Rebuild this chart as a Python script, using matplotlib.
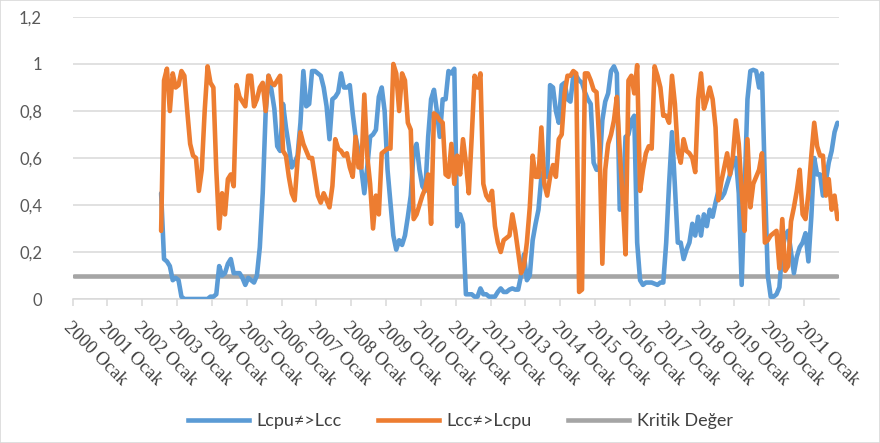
import matplotlib
matplotlib.use("Agg")
import matplotlib.pyplot as plt
from matplotlib.lines import Line2D
from matplotlib.patches import Rectangle
import numpy as np

# ---------------- data ----------------
year_labels = [f"{y} Ocak" for y in range(2000, 2022)]
n_months = 264          # 2000 Ocak .. 2021 Aralık (category axis)
start_month = 30        # first observation: 2002 Temmuz

lcpu_lcc = [
    0.45, 0.17, 0.16, 0.14, 0.08, 0.09, 0.08, 0.01, 0.00, 0.00,   # 30-39
    0.00, 0.00, 0.00, 0.00, 0.00, 0.00, 0.00, 0.01, 0.01, 0.02,   # 40-49
    0.14, 0.10, 0.11, 0.15, 0.17, 0.11, 0.11, 0.11, 0.09, 0.06,   # 50-59
    0.09, 0.08, 0.07, 0.10, 0.22, 0.45, 0.79, 0.95, 0.89, 0.81,   # 60-69
    0.65, 0.63, 0.83, 0.73, 0.65, 0.56, 0.58, 0.61, 0.75, 0.97,   # 70-79
    0.82, 0.83, 0.97, 0.97, 0.96, 0.95, 0.90, 0.82, 0.68, 0.85,   # 80-89
    0.86, 0.88, 0.96, 0.90, 0.90, 0.91, 0.79, 0.69, 0.63, 0.55,   # 90-99
    0.45, 0.56, 0.69, 0.70, 0.72, 0.86, 0.90, 0.80, 0.55, 0.41,   # 100-109
    0.27, 0.21, 0.25, 0.23, 0.27, 0.35, 0.44, 0.63, 0.66, 0.55,   # 110-119
    0.48, 0.46, 0.69, 0.85, 0.89, 0.80, 0.69, 0.85, 0.85, 0.97,   # 120-129
    0.96, 0.98, 0.31, 0.36, 0.32, 0.02, 0.02, 0.02, 0.01, 0.01,   # 130-139
    0.045, 0.02, 0.02, 0.01, 0.01, 0.01, 0.03, 0.045, 0.03, 0.03, # 140-149
    0.04, 0.045, 0.04, 0.04, 0.10, 0.19, 0.08, 0.10, 0.25, 0.32,  # 150-159
    0.38, 0.52, 0.55, 0.52, 0.91, 0.90, 0.80, 0.75, 0.91, 0.92,   # 160-169
    0.85, 0.84, 0.95, 0.95, 0.93, 0.92, 0.88, 0.85, 0.83, 0.58,   # 170-179
    0.55, 0.55, 0.76, 0.84, 0.875, 0.97, 0.99, 0.96, 0.38, 0.40,  # 180-189
    0.69, 0.70, 0.76, 0.78, 0.24, 0.08, 0.06, 0.07, 0.07, 0.07,   # 190-199
    0.065, 0.06, 0.07, 0.07, 0.24, 0.49, 0.71, 0.48, 0.24, 0.24,  # 200-209
    0.17, 0.21, 0.24, 0.32, 0.27, 0.35, 0.27, 0.36, 0.31, 0.38,   # 210-219
    0.35, 0.41, 0.46, 0.43, 0.45, 0.49, 0.53, 0.58, 0.60, 0.45,   # 220-229
    0.06, 0.45, 0.85, 0.97, 0.975, 0.97, 0.90, 0.96, 0.50, 0.10,  # 230-239
    0.01, 0.01, 0.02, 0.05, 0.21, 0.27, 0.29, 0.20, 0.11, 0.18,   # 240-249
    0.22, 0.24, 0.28, 0.16, 0.35, 0.60, 0.53, 0.53, 0.44, 0.50,   # 250-259
    0.58, 0.63, 0.71, 0.75,                                       # 260-263
]

lcc_lcpu = [
    0.29, 0.93, 0.98, 0.80, 0.96, 0.90, 0.91, 0.97, 0.95, 0.80,   # 30-39
    0.66, 0.61, 0.60, 0.46, 0.55, 0.80, 0.99, 0.92, 0.90, 0.55,   # 40-49
    0.30, 0.45, 0.36, 0.51, 0.53, 0.48, 0.91, 0.86, 0.84, 0.82,   # 50-59
    0.95, 0.95, 0.82, 0.85, 0.90, 0.92, 0.80, 0.95, 0.92, 0.91,   # 60-69
    0.93, 0.95, 0.63, 0.61, 0.52, 0.45, 0.42, 0.59, 0.71, 0.66,   # 70-79
    0.63, 0.60, 0.60, 0.52, 0.44, 0.41, 0.45, 0.42, 0.39, 0.48,   # 80-89
    0.68, 0.64, 0.63, 0.61, 0.62, 0.56, 0.52, 0.69, 0.56, 0.56,   # 90-99
    0.87, 0.61, 0.49, 0.30, 0.44, 0.36, 0.62, 0.63, 0.64, 0.64,   # 100-109
    1.00, 0.96, 0.80, 0.96, 0.93, 0.75, 0.72, 0.34, 0.36, 0.40,   # 110-119
    0.44, 0.47, 0.53, 0.32, 0.79, 0.78, 0.76, 0.75, 0.53, 0.52,   # 120-129
    0.66, 0.49, 0.61, 0.53, 0.68, 0.58, 0.45, 0.69, 0.95, 0.90,   # 130-139
    0.96, 0.49, 0.44, 0.42, 0.46, 0.31, 0.24, 0.20, 0.25, 0.26,   # 140-149
    0.27, 0.36, 0.29, 0.20, 0.11, 0.14, 0.24, 0.39, 0.61, 0.52,   # 150-159
    0.52, 0.73, 0.49, 0.44, 0.52, 0.57, 0.52, 0.68, 0.70, 0.875,  # 160-169
    0.95, 0.95, 0.97, 0.96, 0.03, 0.04, 0.96, 0.96, 0.93, 0.89,   # 170-179
    0.88, 0.66, 0.15, 0.55, 0.66, 0.70, 0.76, 0.86, 0.63, 0.43,   # 180-189
    0.19, 0.93, 0.95, 0.875, 0.995, 0.46, 0.55, 0.62, 0.65, 0.64, # 190-199
    0.99, 0.95, 0.90, 0.78, 0.78, 0.75, 0.95, 0.83, 0.63, 0.58,   # 200-209
    0.68, 0.63, 0.62, 0.60, 0.54, 0.85, 0.96, 0.81, 0.85, 0.90,   # 210-219
    0.85, 0.73, 0.42, 0.50, 0.56, 0.62, 0.53, 0.61, 0.76, 0.66,   # 220-229
    0.46, 0.29, 0.68, 0.39, 0.49, 0.52, 0.55, 0.62, 0.24, 0.25,   # 230-239
    0.27, 0.28, 0.29, 0.13, 0.34, 0.12, 0.14, 0.33, 0.39, 0.46,   # 240-249
    0.55, 0.36, 0.34, 0.45, 0.61, 0.75, 0.65, 0.61, 0.61, 0.44,   # 250-259
    0.51, 0.38, 0.44, 0.34,                                       # 260-263
]

kritik_deger = 0.1

series_names = ["Lcpu\u2260>Lcc", "Lcc\u2260>Lcpu", "Kritik De\u011fer"]
colors = ["#5b9bd5", "#ed7d31", "#a5a5a5"]

# ---------------- figure ----------------
W, H = 880, 443
fig = plt.figure(figsize=(W / 100, H / 100), dpi=100)
fig.patches.append(Rectangle((0, 0), 1, 1, transform=fig.transFigure,
                             fill=False, edgecolor="#d9d9d9", lw=1.2))

x_left, x_right = 72.6, 838.9
y_top, y_bot = 17, 299
ax = fig.add_axes([x_left / W, 1 - y_bot / H, (x_right - x_left) / W, (y_bot - y_top) / H])

months_all = np.arange(n_months)
x_b = np.arange(start_month, start_month + len(lcpu_lcc))
x_o = np.arange(start_month, start_month + len(lcc_lcpu))

lw = 3.3
ax.plot(months_all, [kritik_deger] * n_months, color=colors[2], lw=lw,
        solid_capstyle="round", zorder=3)
ax.plot(x_b, lcpu_lcc, color=colors[0], lw=lw, solid_joinstyle="round",
        solid_capstyle="round", zorder=4)
ax.plot(x_o, lcc_lcpu, color=colors[1], lw=lw, solid_joinstyle="round",
        solid_capstyle="round", zorder=5)

ax.set_xlim(-0.5, n_months - 0.5)
ax.set_ylim(0, 1.2)

yt = [0, 0.2, 0.4, 0.6, 0.8, 1.0, 1.2]
ax.set_yticks(yt)
ax.set_yticklabels([("%g" % v).replace(".", ",") for v in yt],
                   family=["Lato", "DejaVu Sans"], fontsize=12, color="#595959")
ax.tick_params(axis="y", length=0, pad=22)
ax.grid(axis="y", color="#d9d9d9", lw=1.1)
ax.set_axisbelow(True)

xt = [12 * k - 0.5 for k in range(len(year_labels))]
ax.set_xticks(xt)
ax.set_xticklabels(year_labels, rotation=-45, ha="left", va="top",
                   rotation_mode="anchor", family=["Liberation Serif", "DejaVu Serif"],
                   fontsize=13.5, color="#404040")
ax.tick_params(axis="x", length=5, color="#d9d9d9", width=1.1, pad=9)

for s in ["left", "right", "top"]:
    ax.spines[s].set_visible(False)
ax.spines["bottom"].set_color("#d9d9d9")
ax.spines["bottom"].set_linewidth(1.1)

handles = [Line2D([0], [0], color=c, lw=lw) for c in colors]
fig.legend(handles, series_names, loc="center", bbox_to_anchor=(0.523, 1 - 421 / H),
           ncol=3, frameon=False, handlelength=3.4, handletextpad=0.4,
           columnspacing=2.0, prop={"family": ["Lato", "DejaVu Sans"], "size": 13},
           labelcolor="#404040")

fig.savefig("out.png", dpi=100)
